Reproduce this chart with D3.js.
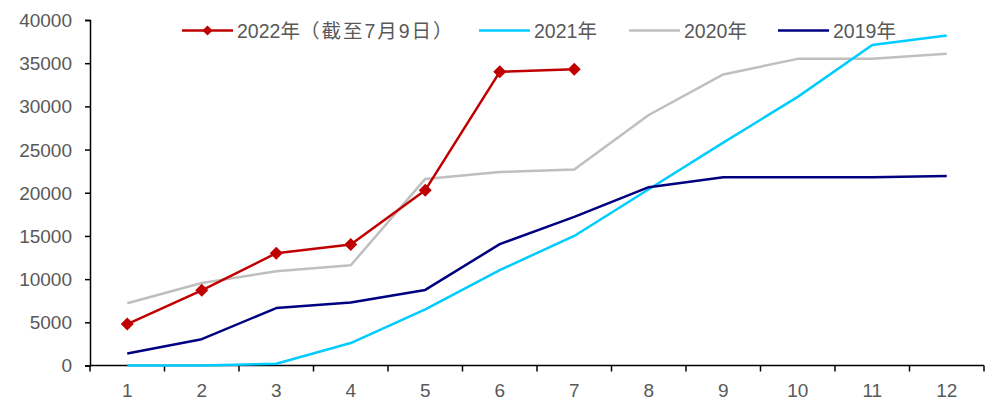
<!DOCTYPE html>
<html>
<head>
<meta charset="utf-8">
<script src="https://cdn.jsdelivr.net/npm/d3@7"></script>
<style>
  html, body { margin: 0; padding: 0; background: #fff; }
  svg text { font-family: "Liberation Sans", Arial, "Noto Sans CJK SC", sans-serif; fill: #595959; }
</style>
</head>
<body>
<svg id="chart" width="1003" height="403"></svg>
<script>
// Months on the x axis
const months = [1, 2, 3, 4, 5, 6, 7, 8, 9, 10, 11, 12];
const yTicks = [0, 5000, 10000, 15000, 20000, 25000, 30000, 35000, 40000];

// Cumulative values by month
const values2022 = [4800, 8700, 13000, 14000, 20300, 34000, 34300];
const values2021 = [0, 0, 200, 2600, 6500, 11050, 15000, 20400, 25800, 31100, 37100, 38200];
const values2020 = [7200, 9550, 10900, 11600, 21600, 22400, 22700, 29000, 33700, 35500, 35500, 36100];
const values2019 = [1400, 3050, 6650, 7300, 8750, 14050, 17200, 20650, 21800, 21800, 21800, 21950];

// Legend labels: year part and an optional note
const seriesYears = ["2022年", "2021年", "2020年", "2019年"];
const seriesNotes = ["（截至7月9日）", "", "", ""];
const seriesColors = ["#C00000", "#00CCFF", "#BFBFBF", "#000080"];
const seriesData = [values2022, values2021, values2020, values2019];

const svg = d3.select("#chart");
const plotLeft = 90, plotRight = 984, plotTop = 20, plotBottom = 365.5;

const x = d3.scaleBand().domain(months).range([plotLeft, plotRight]);
const y = d3.scaleLinear().domain([0, 40000]).range([plotBottom, plotTop]);
const cx = m => x(m) + x.bandwidth() / 2;

// Y axis
const yAxis = svg.append("g")
  .attr("transform", `translate(${plotLeft},0)`)
  .call(d3.axisLeft(y).tickValues(yTicks).tickSize(5).tickPadding(13).tickFormat(d3.format("d")));
yAxis.select(".domain").attr("stroke", "#000").attr("stroke-width", 1.5);
yAxis.selectAll(".tick line").attr("stroke", "#000").attr("stroke-width", 1.5);
yAxis.selectAll(".tick text").style("font-size", "19px").attr("dy", "0.34em");

// X axis: ticks sit on band boundaries, labels at band centres
const xAxisG = svg.append("g").attr("transform", `translate(0,${plotBottom})`);
xAxisG.append("line")
  .attr("x1", plotLeft).attr("x2", plotRight)
  .attr("stroke", "#000").attr("stroke-width", 1.5);
const boundaries = months.map(m => x(m)).concat([plotRight]);
xAxisG.selectAll("line.tk").data(boundaries).join("line")
  .attr("class", "tk")
  .attr("x1", d => d).attr("x2", d => d)
  .attr("y1", 0).attr("y2", 6)
  .attr("stroke", "#000").attr("stroke-width", 1.5);
xAxisG.selectAll("text").data(months).join("text")
  .attr("x", d => cx(d)).attr("y", 31)
  .attr("text-anchor", "middle")
  .style("font-size", "19px")
  .text(d => d);

// Lines, drawn so the 2022 series ends up on top
const line = d3.line().x((d, i) => cx(months[i])).y(d => y(d));
const order = [2, 1, 3, 0];
order.forEach(i => {
  svg.append("path")
    .datum(seriesData[i])
    .attr("fill", "none")
    .attr("stroke", seriesColors[i])
    .attr("stroke-width", 2.5)
    .attr("stroke-linejoin", "round")
    .attr("d", line);
});

// Diamond markers on the 2022 series
const diamond = (s) => `M0,${-s}L${s},0L0,${s}L${-s},0Z`;
svg.append("g").selectAll("path").data(values2022).join("path")
  .attr("transform", (d, i) => `translate(${cx(months[i])},${y(d)})`)
  .attr("d", diamond(6.5))
  .attr("fill", "#C00000");

// Legend
const legendY = 30.5;
const legendX = [182, 479, 629, 778];
const legend = svg.append("g");
seriesYears.forEach((year, i) => {
  const g = legend.append("g").attr("transform", `translate(${legendX[i]},${legendY})`);
  g.append("line").attr("x1", 0).attr("x2", 51)
    .attr("stroke", seriesColors[i]).attr("stroke-width", 2.5);
  if (i === 0) {
    g.append("path").attr("transform", "translate(25.5,0)")
      .attr("d", diamond(5)).attr("fill", seriesColors[i]);
  }
  const t = g.append("text").attr("x", 55).attr("y", 0).attr("dy", "0.36em")
    .style("font-size", "19.5px");
  t.append("tspan").text(year);
  if (seriesNotes[i]) {
    t.append("tspan").style("letter-spacing", "2px").text(seriesNotes[i]);
  }
});
</script>
</body>
</html>
